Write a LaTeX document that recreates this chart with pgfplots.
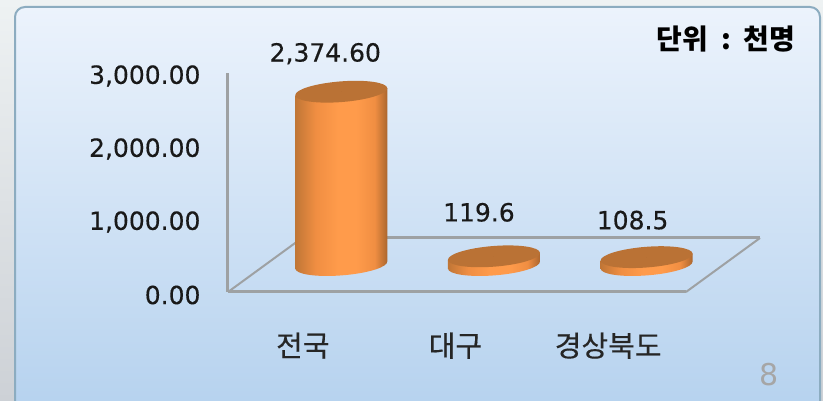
\documentclass[border=0pt]{standalone}
\usepackage{fontspec}
\setmainfont[FakeBold=0.3]{DejaVu Sans}
\newfontfamily\kr[FakeBold=0.3]{Noto Sans CJK KR}
\newfontfamily\krb{Noto Sans CJK KR}
\newfontfamily\plain{DejaVu Sans}
\usepackage{pgfplots}
\usepackage{pgfplotstable}
\pgfplotsset{compat=1.18}
\definecolor{axgray}{HTML}{9EA1A3}
\definecolor{cyltop}{HTML}{BA7235}
\definecolor{cA}{HTML}{C07636}
\definecolor{cB}{HTML}{F08E42}
\definecolor{cC}{HTML}{FF9B4B}
\definecolor{cD}{HTML}{A9652E}
\definecolor{pgtop}{HTML}{EEF2F3}
\definecolor{pgbot}{HTML}{CDD1D6}
\definecolor{pantop}{HTML}{ECF3FC}
\definecolor{panbot}{HTML}{B4D1EE}
\definecolor{panedge}{HTML}{8CACC0}
\pgfdeclarehorizontalshading{cyl}{100bp}{color(0bp)=(cA);color(25bp)=(cA);color(36bp)=(cB);color(48bp)=(cC);color(58bp)=(cC);color(68bp)=(cB);color(75bp)=(cD);color(100bp)=(cD)}
\pgfplotstableread{
x val  lab       dy dx
0 2374.60 2,374.60 38 -16
1 119.6 119.6    44 -15
2 108.5 108.5    37 -14
}\datatab
\begin{document}
\begin{tikzpicture}[x=1pt,y=1pt]
\useasboundingbox (0,0) rectangle (823,401);
\clip (0,0) rectangle (823,401);
% page behind the panel
\shade[top color=pgtop, bottom color=pgbot] (0,0) rectangle (823,401);
% panel
\shade[top color=pantop, bottom color=panbot,
  draw=panedge, line width=2pt, rounded corners=10pt]
  (15,-20) rectangle (820,394);
% main axis: floor and y axis
\begin{axis}[
  at={(228pt,109pt)}, anchor=south west,
  scale only axis, width=458pt, height=219pt,
  xmin=-0.5, xmax=2.5, ymin=0, ymax=3000,
  axis x line=bottom, axis y line=left,
  axis line style={-, draw=axgray, line width=3pt},
  xtick={0,1,2},
  xticklabels={전국,대구,경상북도},
  x tick label style={font=\kr\fontsize{29}{33}\selectfont, text=black!85, yshift=-37pt, xshift=-1.5pt, anchor=north},
  ytick={0,1000,2000,3000},
  yticklabel style={/pgf/number format/fixed, /pgf/number format/fixed zerofill,
    /pgf/number format/precision=2, /pgf/number format/1000 sep={,},
    /pgf/number format/assume math mode=true,
    font=\fontsize{25}{29}\selectfont, text=black!90, xshift=-24pt, yshift=-3pt},
  scaled y ticks=false,
  major tick length=0pt,
  clip=false,
]
\addplot[axgray, line width=2pt] coordinates {(-0.5,0) (-0.015,740)};
\addplot[axgray, line width=3pt] coordinates {(-0.015,740) (2.985,740)};
\addplot[axgray, line width=2pt] coordinates {(2.5,0) (2.985,740)};
\end{axis}
% cylinders: same scale, base of the cylinders 27 px above the floor's front edge
\begin{axis}[
  at={(228pt,109pt)}, anchor=south west,
  scale only axis, width=458pt, height=219pt,
  xmin=-0.742, xmax=2.258, ymin=-369, ymax=2631,
  hide axis, clip=false,
]
\addplot[scatter, only marks, mark=*, mark size=0pt, draw=none, fill=none,
  point meta=y,
  visualization depends on={y \as \vv},
  scatter/@pre marker code/.code={%
    \pgfmathsetmacro\hh{\vv*0.073}%
    \begin{scope}
    \shade[shading=cyl] (-46pt,-3.6pt) -- (-46pt,-3.6pt-\hh pt)
       .. controls (-45.56pt,-9.29pt-\hh pt) and (-24.6pt,-12.29pt-\hh pt) .. (0.8pt,-10.3pt-\hh pt)
       .. controls (26.2pt,-8.31pt-\hh pt) and (46.44pt,-2.09pt-\hh pt) .. (46pt,3.6pt-\hh pt)
       -- (46pt,3.6pt) -- cycle;
    \fill[cyltop] (-46pt,-3.6pt)
       .. controls (-45.56pt,-9.29pt) and (-24.6pt,-12.29pt) .. (0.8pt,-10.3pt)
       .. controls (26.2pt,-8.31pt) and (46.44pt,-2.09pt) .. (46pt,3.6pt)
       .. controls (45.56pt,9.29pt) and (24.6pt,12.29pt) .. (-0.8pt,10.3pt)
       .. controls (-26.2pt,8.31pt) and (-46.44pt,2.09pt) .. (-46pt,-3.6pt) -- cycle;
    \end{scope}
    \begin{scope}
  },
  scatter/@post marker code/.code={\end{scope}},
] table[x=x,y=val] {\datatab};
\addplot[only marks, mark=none, draw=none,
  point meta=explicit symbolic,
  visualization depends on={\thisrow{dy} \as \dyv},
  visualization depends on={\thisrow{dx} \as \dxv},
  nodes near coords,
  nodes near coords align={anchor=center},
  every node near coord/.append style={font=\fontsize{25}{29}\selectfont, text=black!90,
     xshift=\dxv pt, yshift=\dyv pt, inner sep=0pt},
] table[x=x,y=val,meta=lab] {\datatab};
\end{axis}
\node[font=\krb\bfseries\fontsize{28}{32}\selectfont, text=black, anchor=center] at (726,362) {단위\ \ :\ \ 천명};
\node[font=\plain\fontsize{30}{34}\selectfont, text=gray!70] at (769,26) {8};
\end{tikzpicture}
\end{document}
